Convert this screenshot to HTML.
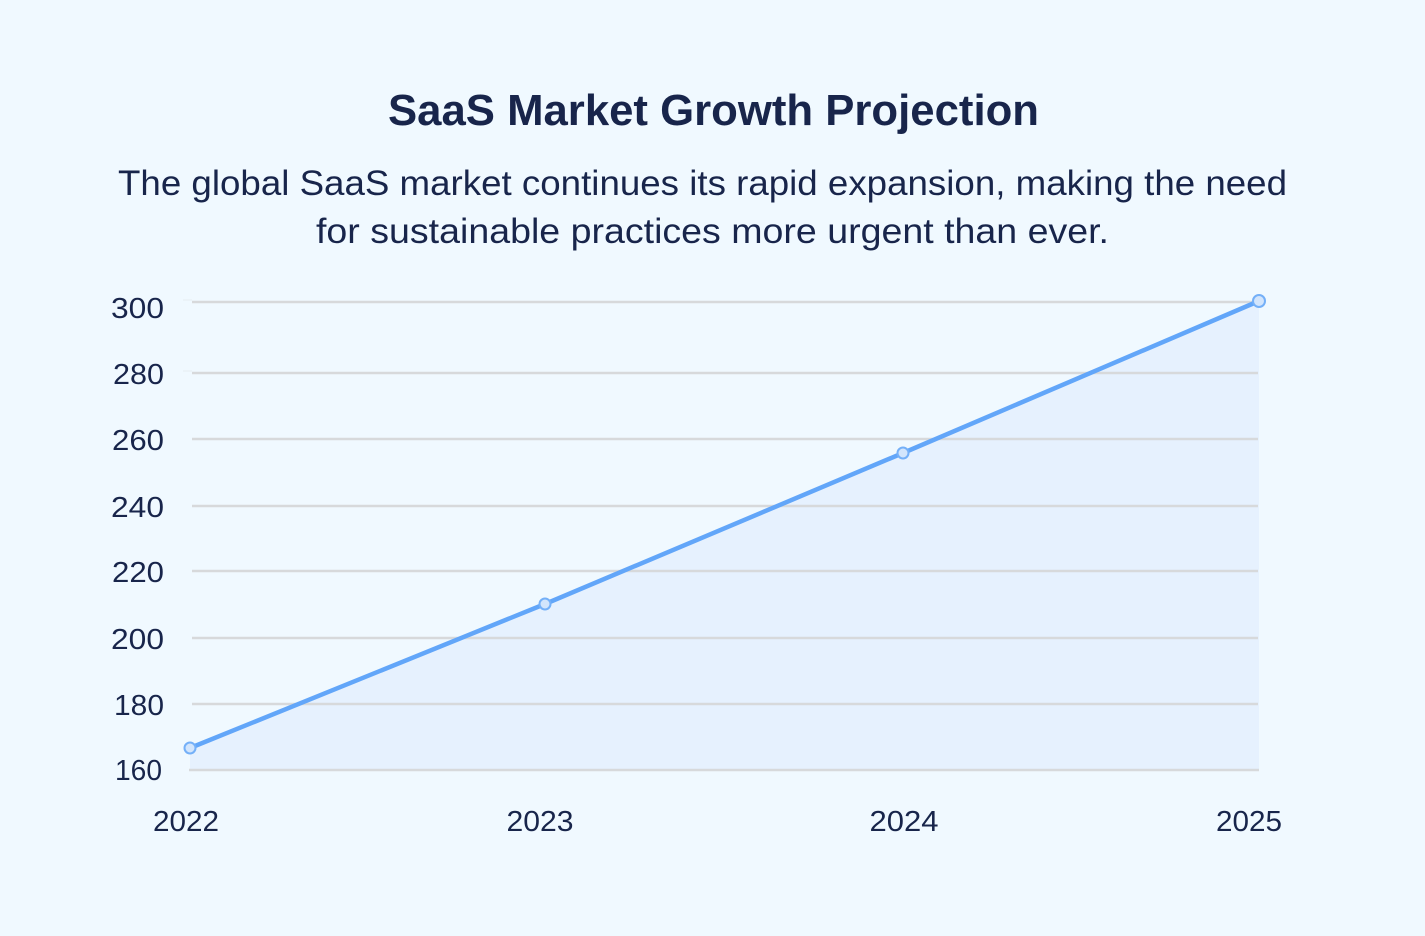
<!DOCTYPE html>
<html>
<head>
<meta charset="utf-8">
<style>
  html, body { margin:0; padding:0; background:#f0f9ff; }
  body { width:1425px; height:936px; overflow:hidden; }
  svg { display:block; }
  text { font-family: "Liberation Sans", sans-serif; fill:#18254b; }
</style>
</head>
<body>
<svg width="1425" height="936" viewBox="0 0 1425 936" xmlns="http://www.w3.org/2000/svg">
  <rect x="0" y="0" width="1425" height="936" fill="#f0f9ff"/>

  <!-- Title -->
  <text x="388" y="125" font-size="44" font-weight="bold" textLength="651" lengthAdjust="spacingAndGlyphs">SaaS Market Growth Projection</text>
  <!-- Subtitle -->
  <text x="118" y="195" font-size="35" textLength="1169" lengthAdjust="spacingAndGlyphs">The global SaaS market continues its rapid expansion, making the need</text>
  <text x="316" y="243" font-size="35" textLength="793" lengthAdjust="spacingAndGlyphs">for sustainable practices more urgent than ever.</text>

  <!-- Area fill -->
  <polygon points="190,748 545,604 903,453 1259,301 1259,770 190,770" fill="#e6f1fe"/>

  <!-- Gridlines -->
  <g stroke="#d7d9db" stroke-width="2.5">
    <line x1="192" y1="302" x2="1258" y2="302"/>
    <line x1="192" y1="373" x2="1258" y2="373"/>
    <line x1="192" y1="439" x2="1258" y2="439"/>
    <line x1="192" y1="506" x2="1258" y2="506"/>
    <line x1="192" y1="571" x2="1258" y2="571"/>
    <line x1="192" y1="638" x2="1258" y2="638"/>
    <line x1="192" y1="704" x2="1258" y2="704"/>
    <line x1="189" y1="770" x2="1259" y2="770"/>
  </g>
  <g stroke="#e6edf2" stroke-width="1">
    <line x1="183" y1="300" x2="192" y2="300"/>
    <line x1="183" y1="371" x2="192" y2="371"/>
  </g>

  <!-- Line -->
  <polyline points="190,748 545,604 903,453 1259,301" fill="none" stroke="#62a6f9" stroke-width="4.5" stroke-linejoin="round" stroke-linecap="round"/>
  <g fill="#d2e5fc" stroke="#74b0f8" stroke-width="2">
    <circle cx="190" cy="748" r="5.5"/>
    <circle cx="545" cy="604" r="5.5"/>
    <circle cx="903" cy="453" r="5.5"/>
    <circle cx="1259" cy="301" r="6"/>
  </g>

  <!-- Y labels -->
  <g font-size="29" text-anchor="end">
    <text x="164" y="318" textLength="53" lengthAdjust="spacingAndGlyphs">300</text>
    <text x="164" y="384" textLength="51" lengthAdjust="spacingAndGlyphs">280</text>
    <text x="164" y="450" textLength="52" lengthAdjust="spacingAndGlyphs">260</text>
    <text x="164" y="517" textLength="53" lengthAdjust="spacingAndGlyphs">240</text>
    <text x="164" y="582" textLength="52" lengthAdjust="spacingAndGlyphs">220</text>
    <text x="164" y="649" textLength="53" lengthAdjust="spacingAndGlyphs">200</text>
    <text x="164" y="715" textLength="50" lengthAdjust="spacingAndGlyphs">180</text>
    <text x="162" y="780" textLength="47" lengthAdjust="spacingAndGlyphs">160</text>
  </g>

  <!-- X labels -->
  <g font-size="29" text-anchor="middle">
    <text x="186" y="831" textLength="66" lengthAdjust="spacingAndGlyphs">2022</text>
    <text x="540" y="831" textLength="67" lengthAdjust="spacingAndGlyphs">2023</text>
    <text x="904" y="831" textLength="69" lengthAdjust="spacingAndGlyphs">2024</text>
    <text x="1249" y="831" textLength="66" lengthAdjust="spacingAndGlyphs">2025</text>
  </g>
</svg>
</body>
</html>
